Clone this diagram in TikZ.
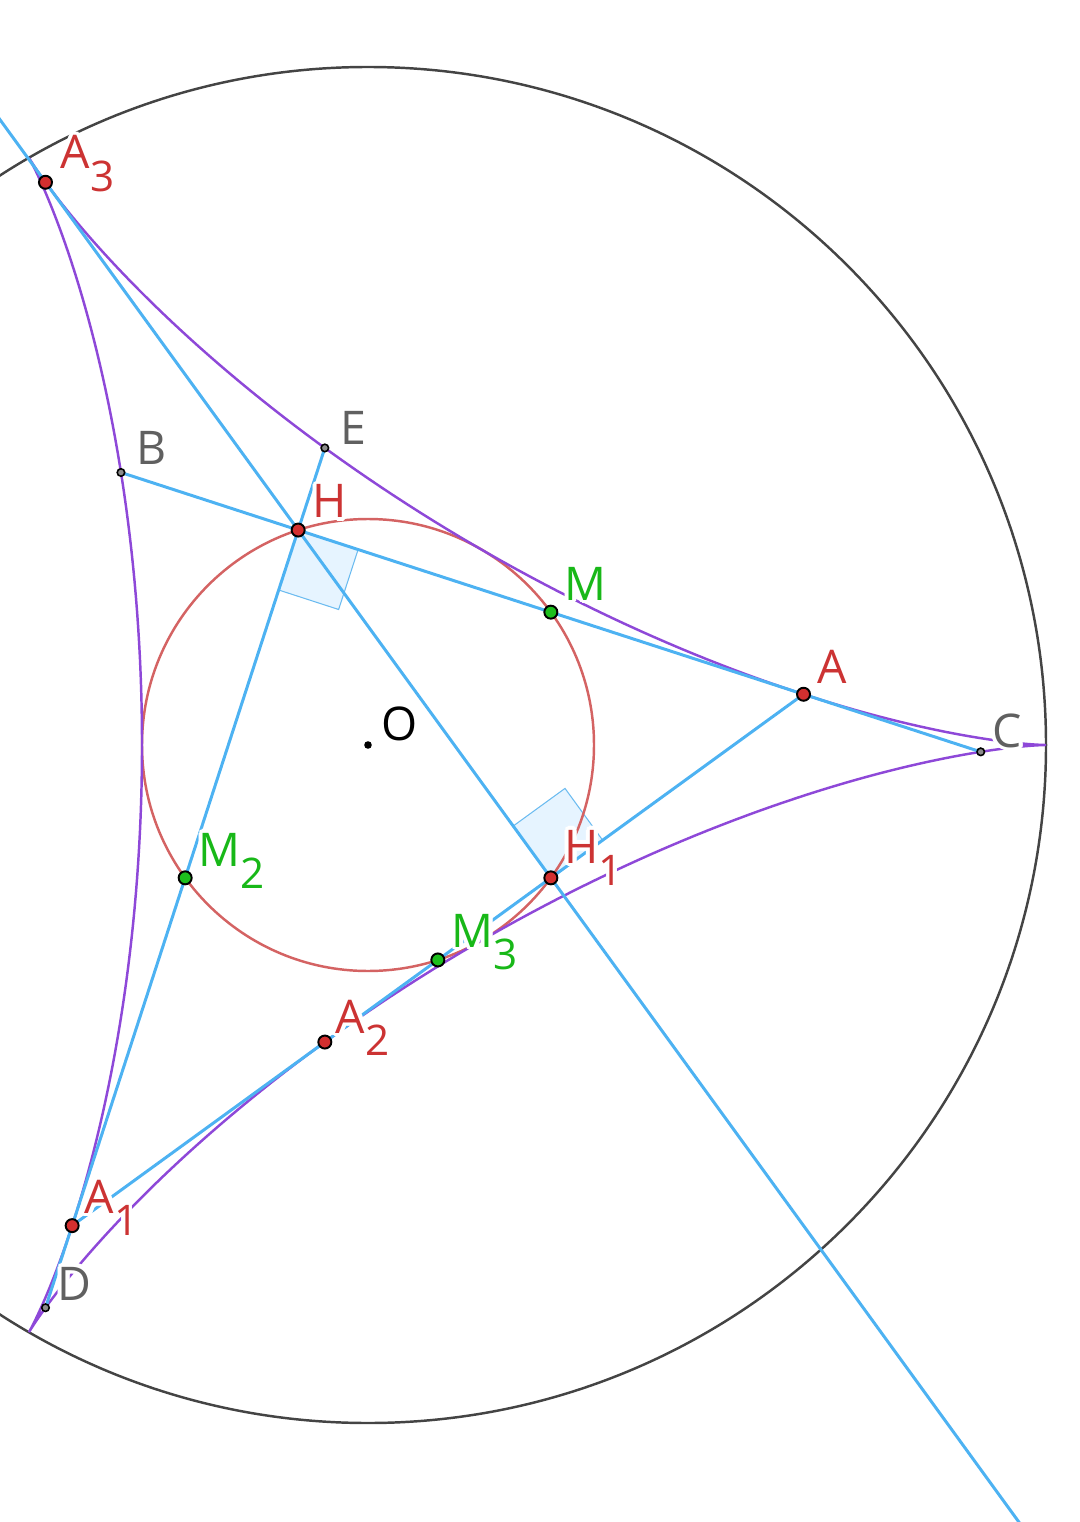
\documentclass[tikz,border=0pt]{standalone}
\usepackage{fontspec}
\setmainfont{Open Sans}
\usepackage[copies]{contour}
\contourlength{1.1pt}
\usetikzlibrary{calc}
\definecolor{bigc}{HTML}{444444}
\definecolor{incc}{HTML}{D46363}
\definecolor{delc}{HTML}{8E48D8}
\definecolor{linec}{HTML}{4DB2F2}
\definecolor{raf}{HTML}{E3F3FF}
\definecolor{rab}{HTML}{6BBBF0}
\definecolor{ptred}{HTML}{D32F2F}
\definecolor{lblred}{HTML}{CC3333}
\definecolor{ptgreen}{HTML}{1DBF1D}
\definecolor{lblgreen}{HTML}{18B818}
\definecolor{lblgray}{HTML}{606060}
\newcommand{\dltc}[2]{\coordinate (#1) at ({368+226*(2*cos(#2)+cos(2*(#2)))}, {745-226*(2*sin(#2)-sin(2*(#2)))});}
\newcommand{\incc}[2]{\coordinate (#1) at ({368+226*cos(#2)}, {745-226*sin(#2)});}
\newcommand{\lab}[2]{\contour{white}{#1}\raisebox{-6.3pt}{\fontsize{12}{12}\selectfont\contour{white}{#2}}}
\tikzset{
  lbl/.style={anchor=base west, inner sep=0pt, font=\fontsize{13.2}{14}\selectfont},
  bline/.style={draw=linec, line width=0.85pt},
  redpt/.style={circle, fill=ptred, draw=black, line width=0.55pt, minimum size=0.13cm, inner sep=0pt},
  greenpt/.style={circle, fill=ptgreen, draw=black, line width=0.55pt, minimum size=0.13cm, inner sep=0pt},
  smallpt/.style={circle, fill=black!45, draw=black, line width=0.45pt, minimum size=0.075cm, inner sep=0pt},
  ramark/.style={fill=raf, fill opacity=0.9}
}
\begin{document}
\begin{tikzpicture}[x=0.01cm, y=-0.01cm]
\useasboundingbox (0,0) rectangle (1079,1522);
\clip (0,0) rectangle (1079,1522);
% key points
\coordinate (O) at (368,745);
\dltc{A}{36}
\dltc{A1}{216}
\dltc{A2}{-72}
\dltc{A3}{108}
\incc{M}{36}
\incc{M2}{216}
\incc{M3}{-72}
\incc{H}{108}
\incc{H1}{-36}
\coordinate (B) at ({368+226*(-2*cos(18)+cos(36))}, {745-226*(2*sin(18)+sin(36))});
\coordinate (C) at ({368+226*(2*cos(18)+cos(36))}, {745-226*(-2*sin(18)+sin(36))});
\coordinate (E) at ({368+226*(-2*cos(108)+cos(216))}, {745-226*(2*sin(108)+sin(216))});
\coordinate (D) at ({368+226*(2*cos(108)+cos(216))}, {745-226*(-2*sin(108)+sin(216))});
\coordinate (Lstart) at ($(A3)!-0.2!(H1)$);
\coordinate (Lend) at ($(A3)!2.2!(H1)$);
% right angle marks
\coordinate (ra1) at ($(H)!0.63cm!(M)$);
\coordinate (ra2) at ($(H)!0.63cm!(M2)$);
\coordinate (ra3) at ($(ra1)+(ra2)-(H)$);
\fill[ramark] (H) -- (ra1) -- (ra3) -- (ra2) -- cycle;
\draw[draw=rab, line width=0.3pt] (ra1) -- (ra3) -- (ra2);
\coordinate (rb1) at ($(H1)!0.64cm!(H)$);
\coordinate (rb2) at ($(H1)!0.64cm!(A)$);
\coordinate (rb3) at ($(rb1)+(rb2)-(H1)$);
\fill[ramark] (H1) -- (rb1) -- (rb3) -- (rb2) -- cycle;
\draw[draw=rab, line width=0.3pt] (rb1) -- (rb3) -- (rb2);
% circles
\draw[bigc, line width=0.7pt] (O) circle (678);
\draw[incc, line width=0.7pt] (O) circle (226);
% deltoid
\draw[delc, line width=0.7pt] plot[domain=0:360, samples=721, variable=\t]
  ({368+226*(2*cos(\t)+cos(2*\t))}, {745-226*(2*sin(\t)-sin(2*\t))});
% lines
\draw[bline] (B) -- (C);
\draw[bline] (E) -- (D);
\draw[bline] (A) -- (A1);
\draw[bline] (Lstart) -- (Lend);
% labels
\node[lbl, text=lblred] (lA3) at (60,169) {\lab{A}{3}};
\node[lbl, text=lblred] (lA) at (817,683) {\contour{white}{A}};
\node[lbl, text=lblred] (lA1) at (84,1213) {\lab{A}{1}};
\node[lbl, text=lblred] (lA2) at (335,1033) {\lab{A}{2}};
\node[lbl, text=lblred] (lH) at (312,518) {\contour{white}{H}};
\node[lbl, text=lblred] (lH1) at (564,863) {\lab{H}{1}};
\node[lbl, text=lblgreen] (lM) at (564,600) {\contour{white}{M}};
\node[lbl, text=lblgreen] (lM2) at (198,866) {\lab{M}{2}};
\node[lbl, text=lblgreen] (lM3) at (451,947) {\lab{M}{3}};
\node[lbl, text=lblgray] (lB) at (136,465) {\contour{white}{B}};
\node[lbl, text=lblgray] (lE) at (340,445) {\contour{white}{E}};
\node[lbl, text=lblgray] (lC) at (992,747) {\contour{white}{C}};
\node[lbl, text=lblgray] (lD) at (57,1300) {\contour{white}{D}};
\node[lbl, text=black] (lO) at (381,740) {\contour{white}{O}};
% points
\node[smallpt] (pB) at (B) {};
\node[smallpt] (pC) at (C) {};
\node[smallpt] (pE) at (E) {};
\node[smallpt] (pD) at (D) {};
\fill (O) circle (3.8);
\node[redpt] (pA) at (A) {};
\node[redpt] (pA1) at (A1) {};
\node[redpt] (pA2) at (A2) {};
\node[redpt] (pA3) at (A3) {};
\node[redpt] (pH) at (H) {};
\node[redpt] (pH1) at (H1) {};
\node[greenpt] (pM) at (M) {};
\node[greenpt] (pM2) at (M2) {};
\node[greenpt] (pM3) at (M3) {};
\end{tikzpicture}
\end{document}
